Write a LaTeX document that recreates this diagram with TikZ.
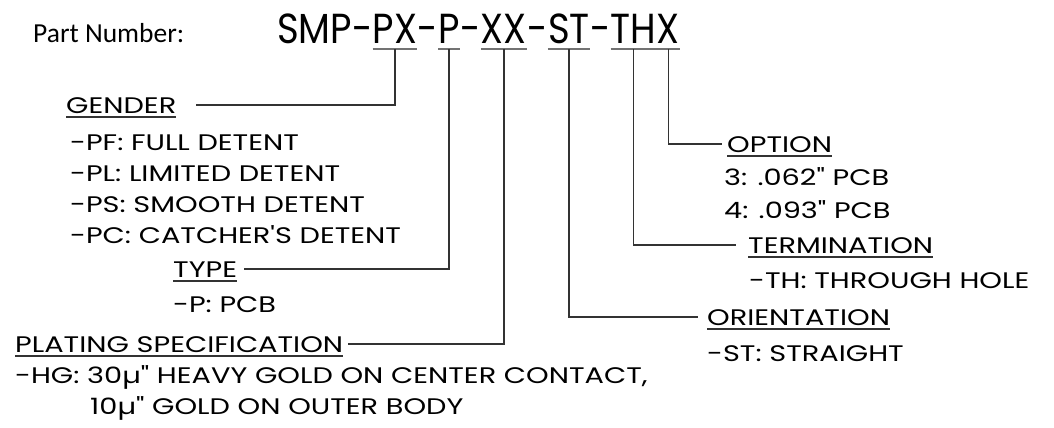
\documentclass[tikz,border=0pt]{standalone}
\usepackage{fontspec}
\newfontfamily\gothic[FakeStretch=1.28]{Poppins}
\newfontfamily\gothicpn[FakeStretch=0.88]{Poppins}
\newfontfamily\calibri{Carlito}

\begin{document}
\begin{tikzpicture}[x=1pt,y=-1pt,
    pn/.style={font=\gothicpn\fontsize{42}{42}\selectfont, inner sep=0pt, anchor=base west},
    txt/.style={font=\gothic\fontsize{22.5}{22.5}\selectfont, inner sep=0pt, anchor=base west},
    bar/.style={draw=black!55, line width=2pt},
    lead/.style={draw=black!80, line width=1.5pt},
    ul/.style={draw=black!80, line width=1.3pt}]
    \useasboundingbox[fill=white] (0,0) rectangle (1054,428);
    \node[font=\calibri\fontsize{27.5}{27.5}\selectfont, inner sep=0pt, anchor=base west] (pnlabel) at (33,42) {Part Number:};
    % the part number, piece by piece
    \node[pn] (smp) at (277,44) {SMP-};
    \node[pn] (px) at (smp.base east) {PX};
    \node[pn] (da) at (px.base east) {-};
    \node[pn] (p) at (da.base east) {P};
    \node[pn] (db) at (p.base east) {-};
    \node[pn] (xx) at (db.base east) {XX};
    \node[pn] (dc) at (xx.base east) {-};
    \node[pn] (st) at (dc.base east) {ST};
    \node[pn] (dd) at (st.base east) {-};
    \node[pn] (th) at (dd.base east) {TH};
    \node[pn] (x) at (th.base east) {X};
    \foreach \n in {px,p,xx,st,th,x}
        \draw[bar] ([yshift=-5pt]\n.base west) -- ([yshift=-5pt]\n.base east);
    % left side
    \node[txt] (gender) at (66,113) {GENDER};
    \node[txt] (pf) at (70,150) {-PF: FULL DETENT};
    \node[txt] (pl) at (70,181) {-PL: LIMITED DETENT};
    \node[txt] (ps) at (70,212) {-PS: SMOOTH DETENT};
    \node[txt] (pc) at (70,243) {-PC: CATCHER'S DETENT};
    \node[txt] (type) at (173,277) {TYPE};
    \node[txt] (pcb) at (173,312) {-P: PCB};
    \node[txt] (plating) at (15,352) {PLATING SPECIFICATION};
    \node[txt] (hg) at (15,383) {-HG: 30µ" HEAVY GOLD ON CENTER CONTACT,};
    \node[txt] (body) at (90,414) {10µ" GOLD ON OUTER BODY};
    % right side
    \node[txt] (option) at (727,152) {OPTION};
    \node[txt] (o3) at (724,185) {3: .062" PCB};
    \node[txt] (o4) at (724,218) {4: .093" PCB};
    \node[txt] (term) at (748,253) {TERMINATION};
    \node[txt] (thole) at (749,288) {-TH: THROUGH HOLE};
    \node[txt] (orient) at (707,325) {ORIENTATION};
    \node[txt] (straight) at (707,361) {-ST: STRAIGHT};
    \foreach \n in {gender,type,plating,option,term,orient}
        \draw[ul] ([yshift=-4pt]\n.base west) -- ([yshift=-4pt]\n.base east);
    % leaders
    \draw[lead] ([yshift=-5pt]px.base) |- ([xshift=20pt]gender.east);
    \draw[lead] ([yshift=-5pt]p.base) |- ([xshift=7pt]type.east);
    \draw[lead] ([yshift=-5pt]xx.base) |- ([xshift=5pt]plating.east);
    \draw[lead] ([yshift=-5pt]st.base) |- ([xshift=-9pt]orient.west);
    \draw[lead] ([yshift=-5pt]th.base) |- ([xshift=-12pt]term.west);
    \draw[lead] ([yshift=-5pt]x.base) |- ([xshift=-5pt]option.west);
\end{tikzpicture}
\end{document}
